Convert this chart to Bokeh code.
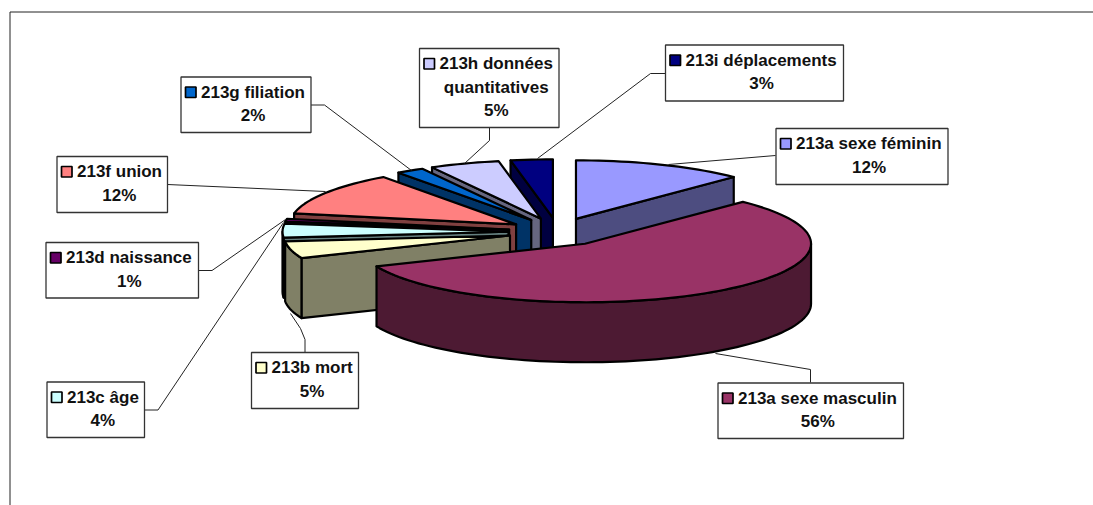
import math
from bokeh.plotting import figure
from bokeh.models import ColumnDataSource
from bokeh.core.properties import value
from bokeh.embed import file_html
from bokeh.resources import INLINE

# ---- data, clockwise from 12 o'clock (labels show them rounded)
categories = ["213a sexe féminin", "213a sexe masculin", "213b mort", "213c âge", "213d naissance",
              "213f union", "213g filiation", "213h données quantitatives", "213i déplacements"]
percent = [12.3, 56.4, 4.7, 3.8, 0.8, 12.0, 2.0, 5.0, 3.0]
colors = ["#9999FF", "#993366", "#FFFFCC", "#CCFFFF", "#660066", "#FF8080", "#0066CC", "#CCCCFF", "#000080"]
wall_colors = ["#4D4D80", "#4D1A33", "#808066", "#668080", "#330033", "#804040", "#003366", "#666680", "#000040"]
label_lines = [["213a sexe féminin"], ["213a sexe masculin"], ["213b mort"], ["213c âge"], ["213d naissance"],
               ["213f union"], ["213g filiation"], ["213h données", "quantitatives"], ["213i déplacements"]]

# ---- layout (page pixels)
CX, CY, RX, RY, DEPTH = 557, 231.5, 226, 58.5, 60
EXPLODE_X, EXPLODE_Y = 49, 14.2
paint_order = [8, 7, 6, 5, 4, 3, 2, 0, 1]
boxes = [(775.5, 128, 947.5, 184), (717.5, 382.5, 903, 438), (251, 352, 358, 408), (46.5, 381.5, 144, 437),
         (45.5, 242, 198, 297.5), (56.5, 156, 167, 212), (180.5, 76.5, 310.5, 132), (419, 48, 558.5, 127),
         (665, 44.5, 843, 100.5)]
leaders = [[(775, 155), (668, 164)],
           [(810, 382), (810, 369), (715, 353)],
           [(304.5, 352), (304.5, 339), (300, 328), (290, 313)],
           [(144, 409.5), (157.5, 409.5), (283, 222)],
           [(198, 270), (211.5, 270), (285, 219)],
           [(167, 184), (325, 191)],
           [(310.5, 104.5), (324, 104.5), (411, 170)],
           [(489, 127), (489, 140), (464, 163)],
           [(665, 73), (650, 73), (537, 158)]]

W, H = 1093, 505
p = figure(width=W, height=H, x_range=(0, W), y_range=(H, 0), output_backend="svg",
           toolbar_location=None, x_axis_type=None, y_axis_type=None, min_border=0,
           background_fill_color="white", border_fill_color="white", outline_line_color=None)
p.grid.visible = False

# chart-area frame
p.line([9.5, 9.5, 1100], [510, 11.5, 11.5], line_color="#222222", line_width=1)


def pt(ax, ay, a, dy=0):
    return ax + RX * math.sin(a), ay - RY * math.cos(a) + dy


def arc(ax, ay, a0, a1, dy=0, step=math.radians(2)):
    n = max(2, int(abs(a1 - a0) / step) + 2)
    return [pt(ax, ay, a0 + (a1 - a0) * i / (n - 1), dy) for i in range(n)]


total = sum(percent)
starts, acc = [], 0
for v in percent:
    starts.append(acc)
    acc += v


def patch(points, fill):
    p.patch([q[0] for q in points], [q[1] for q in points], fill_color=fill,
            line_color="black", line_width=2.2, line_join="round")


for i in paint_order:
    a0 = 2 * math.pi * starts[i] / total
    a1 = 2 * math.pi * (starts[i] + percent[i]) / total
    mid = (a0 + a1) / 2
    ax = CX + EXPLODE_X * math.sin(mid)
    ay = CY - EXPLODE_Y * math.cos(mid)
    # radial walls
    if math.sin(a0) < 0:
        e = pt(ax, ay, a0)
        patch([(ax, ay), e, (e[0], e[1] + DEPTH), (ax, ay + DEPTH)], wall_colors[i])
    if math.sin(a1) > 0:
        e = pt(ax, ay, a1)
        patch([(ax, ay), e, (e[0], e[1] + DEPTH), (ax, ay + DEPTH)], wall_colors[i])
    # outer rim
    r0, r1 = max(a0, math.pi / 2), min(a1, 3 * math.pi / 2)
    if r1 > r0:
        patch(arc(ax, ay, r0, r1) + arc(ax, ay, r1, r0, DEPTH), wall_colors[i])
    # top face
    patch([(ax, ay)] + arc(ax, ay, a0, a1), colors[i])

# leader lines
p.multi_line([[q[0] for q in l] for l in leaders], [[q[1] for q in l] for l in leaders],
             line_color="#222222", line_width=1)

# label boxes
p.quad(left=[b[0] for b in boxes], right=[b[2] for b in boxes], top=[b[1] for b in boxes],
       bottom=[b[3] for b in boxes], fill_color="white", line_color="#333333", line_width=1.3)
# legend keys
p.quad(left=[b[0] + 4.5 for b in boxes], right=[b[0] + 15 for b in boxes], top=[b[1] + 10 for b in boxes],
       bottom=[b[1] + 20.5 for b in boxes], fill_color=colors, line_color="black", line_width=1.7)

tx, ty, ta, tt = [], [], [], []
for i, b in enumerate(boxes):
    lines = label_lines[i]
    cxb = (b[0] + b[2]) / 2 + 7
    tx.append(b[0] + 20); ty.append(b[1] + 15); ta.append("left"); tt.append(lines[0])
    for j, extra in enumerate(lines[1:] + [f"{round(percent[i])}%"]):
        tx.append(cxb); ty.append(b[1] + 15 + 23.7 * (j + 1)); ta.append("center"); tt.append(extra)
p.text(x="x", y="y", text="t", text_align="a", text_baseline="middle", source=ColumnDataSource(dict(x=tx, y=ty, a=ta, t=tt)),
       text_font=value("Liberation Sans"), text_font_style="bold", text_font_size="17px", text_color="#111111")

open("out.html", "w").write(file_html(p, INLINE))
